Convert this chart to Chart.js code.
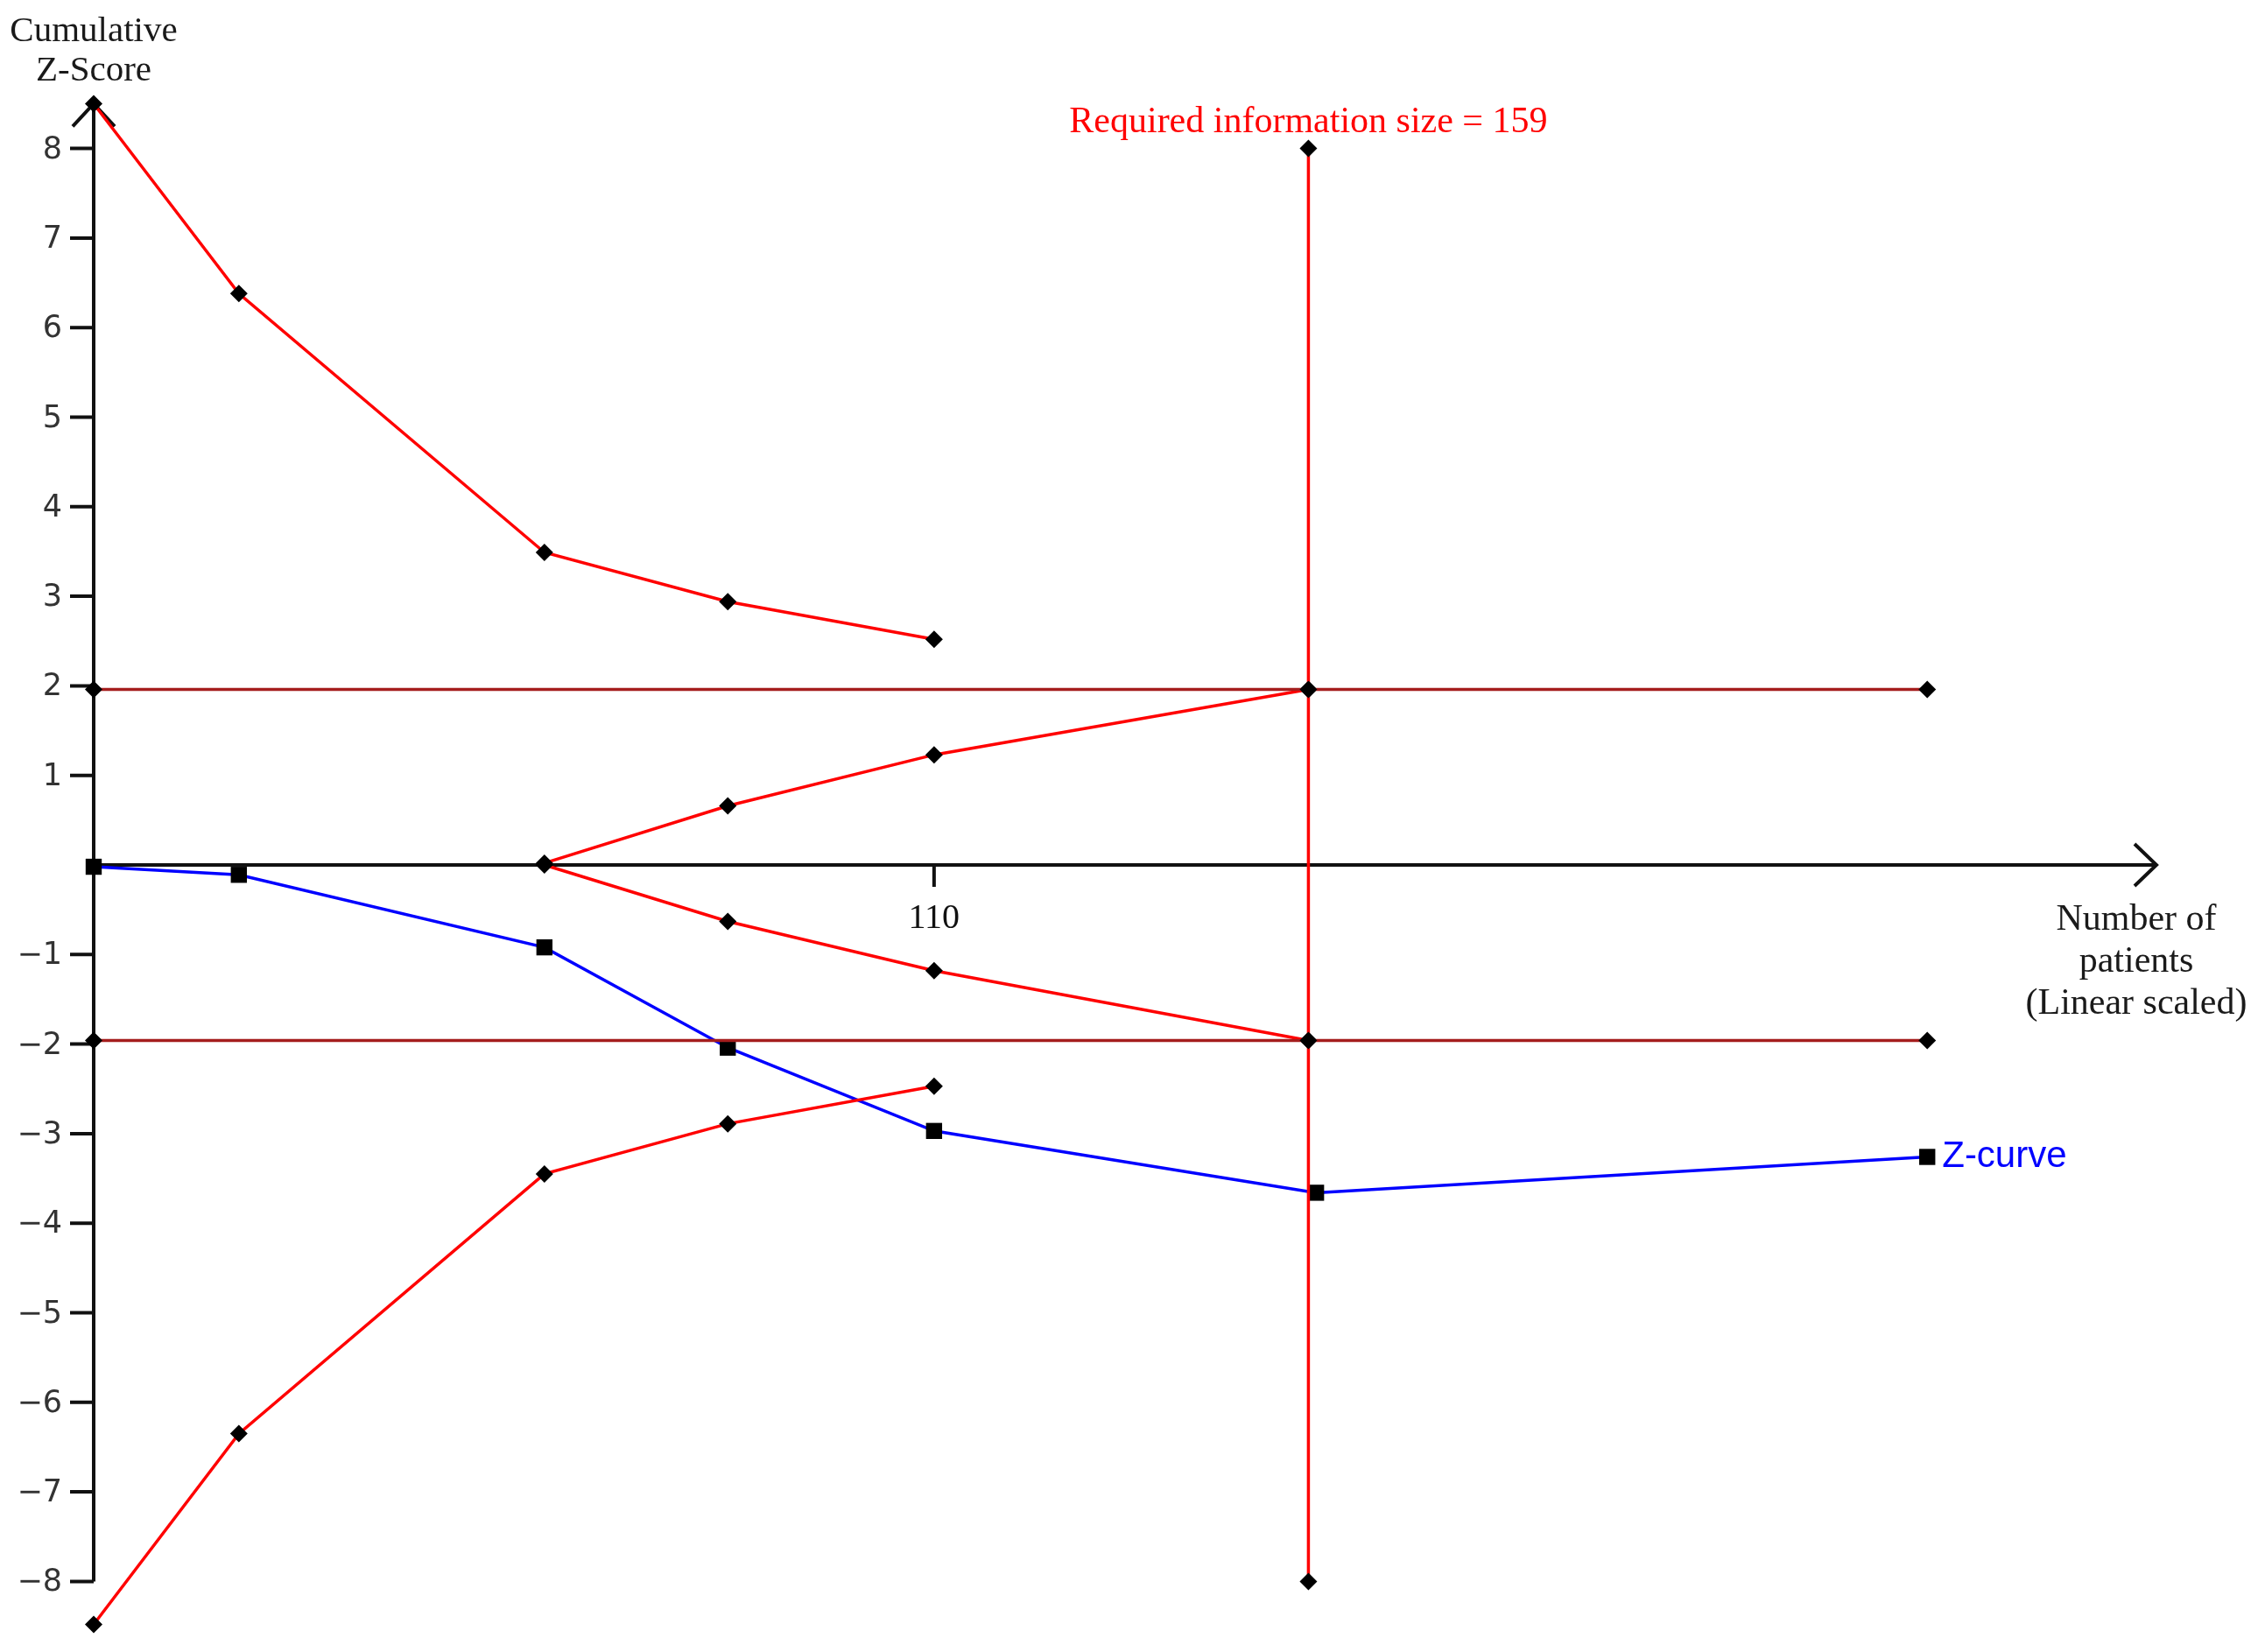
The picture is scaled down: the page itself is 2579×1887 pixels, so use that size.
<!DOCTYPE html>
<html>
<head>
<meta charset="utf-8">
<script src="https://cdn.jsdelivr.net/npm/chart.js@4"></script>
<style>
  body { margin: 0; background: #fff; }
  #wrap { width: 2579px; height: 1887px; }
</style>
</head>
<body>
<div id="wrap"><canvas id="tsa" width="2579" height="1887"></canvas></div>
<script>
// patients at each look (linear scaled)
const alphaPatients = [0, 19, 59, 83, 110];
const alphaUpper = [8.5, 6.38, 3.49, 2.94, 2.52];
const alphaLower = [-8.48, -6.35, -3.45, -2.89, -2.47];

const futilityPatients = [59, 83, 110, 159];
const futilityUpper = [0.02, 0.66, 1.23, 1.96];
const futilityLower = [0, -0.63, -1.18, -1.96];

const conventionalPatients = [0, 159, 240];
const conventionalUpper = [1.96, 1.96, 1.96];
const conventionalLower = [-1.96, -1.96, -1.96];

const risPatients = [159, 159];
const risZ = [8, -8];

const zPatients = [0, 19, 59, 83, 110, 160, 240];
const zCurve = [-0.02, -0.11, -0.92, -2.04, -2.97, -3.66, -3.26];

const yTicks = [-8, -7, -6, -5, -4, -3, -2, -1, 1, 2, 3, 4, 5, 6, 7, 8];
const xTicks = [110];

const pts = (xs, ys) => xs.map((x, i) => ({ x: x, y: ys[i] }));

const line = (xs, ys, color, pointStyle, radius) => ({
    data: pts(xs, ys),
    showLine: true,
    borderColor: color,
    borderWidth: 3.5,
    pointStyle: pointStyle,
    pointRadius: radius,
    pointBackgroundColor: '#000',
    pointBorderWidth: 0,
    clip: false
});

// axes, arrows, ticks and the free text labels
const tsaAxes = {
    id: 'tsaAxes',
    beforeDatasetsDraw(chart) {
        const ctx = chart.ctx;
        const xs = chart.scales.x, ys = chart.scales.y;
        const x0 = xs.getPixelForValue(0), y0 = ys.getPixelForValue(0);
        const yTop = ys.getPixelForValue(8.5), yBot = ys.getPixelForValue(-8);
        const xEnd = xs.getPixelForValue(270);
        ctx.save();
        ctx.strokeStyle = '#111';
        ctx.lineWidth = 4;
        ctx.beginPath();
        ctx.moveTo(x0, yBot); ctx.lineTo(x0, yTop);
        ctx.moveTo(x0 - 24, yTop + 26); ctx.lineTo(x0, yTop); ctx.lineTo(x0 + 24, yTop + 26);
        ctx.moveTo(x0, y0); ctx.lineTo(xEnd, y0);
        ctx.moveTo(xEnd - 25, y0 - 24); ctx.lineTo(xEnd, y0); ctx.lineTo(xEnd - 25, y0 + 24);
        yTicks.forEach(v => {
            const p = ys.getPixelForValue(v);
            ctx.moveTo(x0 - 27, p); ctx.lineTo(x0, p);
        });
        xTicks.forEach(v => {
            const p = xs.getPixelForValue(v);
            ctx.moveTo(p, y0); ctx.lineTo(p, y0 + 25);
        });
        ctx.stroke();

        ctx.fillStyle = '#333';
        ctx.font = '35px "DejaVu Sans"';
        ctx.textAlign = 'right';
        ctx.textBaseline = 'middle';
        yTicks.forEach(v => {
            const s = v < 0 ? '\u2212' + Math.abs(v) : String(v);
            ctx.fillText(s, x0 - 36, ys.getPixelForValue(v) + 2);
        });
        ctx.fillStyle = '#111';
        ctx.font = '40px "Liberation Serif"';
        ctx.textAlign = 'center';
        ctx.textBaseline = 'alphabetic';
        xTicks.forEach(v => ctx.fillText(String(v), xs.getPixelForValue(v), y0 + 72));
        ctx.restore();
    },
    afterDraw(chart) {
        const ctx = chart.ctx;
        const xs = chart.scales.x, ys = chart.scales.y;
        ctx.save();
        ctx.textAlign = 'center';
        ctx.textBaseline = 'alphabetic';
        ctx.fillStyle = '#1a1a1a';
        ctx.font = '41px "Liberation Serif"';
        ctx.fillText('Cumulative', 107, 47);
        ctx.fillText('Z-Score', 107, 92);
        ctx.font = '42px "Liberation Serif"';
        ctx.fillText('Number of', 2440, 1062);
        ctx.fillText('patients', 2440, 1110);
        ctx.fillText('(Linear scaled)', 2440, 1158);
        ctx.fillStyle = '#ff0000';
        ctx.fillText('Required information size = 159', xs.getPixelForValue(159), 151);
        const last = zPatients.length - 1;
        ctx.fillStyle = '#0000ff';
        ctx.font = '42px "Liberation Sans"';
        ctx.textAlign = 'left';
        ctx.textBaseline = 'middle';
        ctx.fillText('Z-curve', xs.getPixelForValue(zPatients[last]) + 17, ys.getPixelForValue(zCurve[last]));
        ctx.restore();
    }
};

new Chart(document.getElementById('tsa'), {
    type: 'scatter',
    data: {
        datasets: [
            line(conventionalPatients, conventionalUpper, '#a51d1d', 'rectRot', 10),
            line(conventionalPatients, conventionalLower, '#a51d1d', 'rectRot', 10),
            line(risPatients, risZ, '#ff0000', 'rectRot', 10),
            line(alphaPatients, alphaUpper, '#ff0000', 'rectRot', 10),
            line(alphaPatients, alphaLower, '#ff0000', 'rectRot', 10),
            line(futilityPatients, futilityUpper, '#ff0000', 'rectRot', 10),
            line(futilityPatients, futilityLower, '#ff0000', 'rectRot', 10),
            line(zPatients, zCurve, '#0000ff', 'rect', 13)
        ]
    },
    options: {
        responsive: false,
        animation: false,
        events: [],
        layout: { autoPadding: false, padding: { left: 107, right: 116, top: 98, bottom: 9 } },
        plugins: { legend: { display: false }, tooltip: { enabled: false } },
        scales: {
            x: { type: 'linear', min: 0, max: 270, display: false },
            y: { type: 'linear', min: -8.7, max: 8.7, display: false }
        }
    },
    plugins: [tsaAxes]
});
</script>
</body>
</html>
